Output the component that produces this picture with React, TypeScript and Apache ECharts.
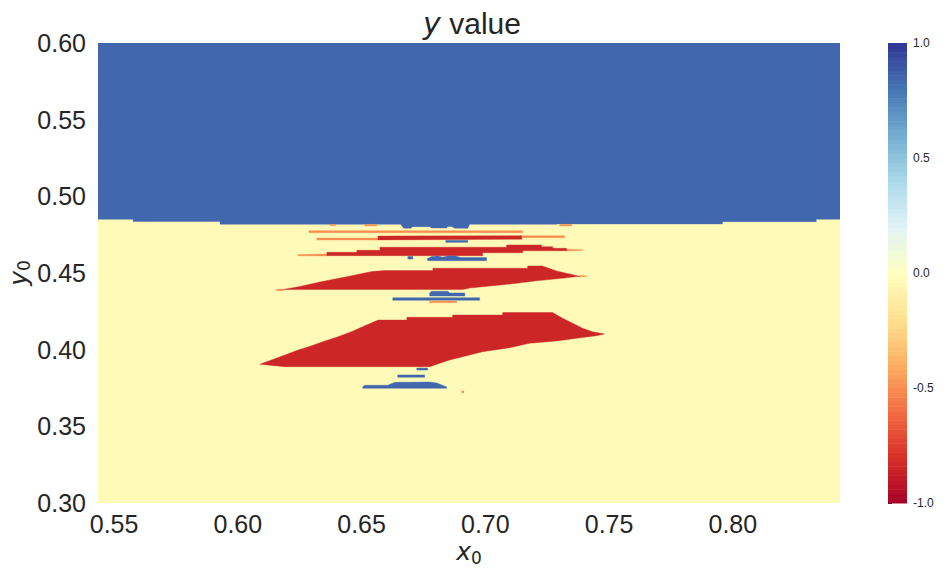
import React, { useEffect, useRef } from 'react';
import * as echarts from 'echarts';

// ---- axes ----
const X_MIN = 0.5435;
const X_MAX = 0.8433;
const Y_MIN = 0.3;
const Y_MAX = 0.6;
const Y_STEP = 0.05;
const CB_MIN = -1;
const CB_MAX = 1;
const CB_STEP = 0.5;

// ---- colormap (RdYlBu) ----
const RDYLBU = ['#a50026', '#d73027', '#f46d43', '#fdae61', '#fee090', '#ffffbf', '#e0f3f8', '#abd9e9', '#74add1', '#4575b4', '#313695'];

// ---- field values ----
const FIELD_VALUE = -0.03;
const BLUE_VALUE = 0.84;
const RED_VALUE = -0.84;
const EDGE_VALUE = -0.5;
const BLUE_HALO = 0.45;
const RED_HALO = -0.55;

// ---- regions (x0, y0) ----
const BACKGROUND = [[X_MIN, Y_MIN], [X_MAX, Y_MIN], [X_MAX, Y_MAX], [X_MIN, Y_MAX]];
const UPPER_BLUE = [[0.5435, 0.6], [0.8433, 0.6], [0.8433, 0.485], [0.8337, 0.485], [0.8337, 0.4835], [0.7958, 0.4835], [0.7958, 0.482], [0.7288, 0.482], [0.7288, 0.4818], [0.6937, 0.4818], [0.6929, 0.4792], [0.6876, 0.4792], [0.6864, 0.4803], [0.6848, 0.4803], [0.6844, 0.4794], [0.6783, 0.4794], [0.6775, 0.4802], [0.6707, 0.4802], [0.6699, 0.4792], [0.667, 0.4792], [0.6658, 0.4818], [0.5928, 0.4818], [0.5928, 0.4836], [0.5577, 0.4836], [0.5577, 0.485], [0.5435, 0.485]];
const ORANGE_LINE_1 = [[0.6287, 0.4763], [0.7151, 0.4763], [0.7151, 0.4776], [0.6287, 0.4776]];
const ORANGE_LINE_2L = [[0.6319, 0.4715], [0.6566, 0.4715], [0.6566, 0.4728], [0.6319, 0.4728]];
const ORANGE_LINE_2R = [[0.7147, 0.473], [0.732, 0.473], [0.732, 0.4743], [0.7147, 0.4743]];
const RED_BAND_A = [[0.6566, 0.4716], [0.7147, 0.472], [0.7147, 0.4743], [0.6566, 0.4741]];
const BLUE_BIT_1 = [[0.684, 0.47], [0.6929, 0.47], [0.6929, 0.4713], [0.684, 0.4713]];
const RED_B_TIP_L = [[0.6243, 0.4613], [0.636, 0.4611], [0.636, 0.4624], [0.6243, 0.462]];
const RED_B_TIP_R = [[0.7328, 0.4643], [0.7393, 0.4646], [0.7393, 0.4652], [0.7328, 0.4655]];
const RED_BAND_B = [[0.636, 0.4613], [0.636, 0.4635], [0.6481, 0.4635], [0.6481, 0.4648], [0.6574, 0.4648], [0.6574, 0.4668], [0.7086, 0.4668], [0.7086, 0.4683], [0.7227, 0.4683], [0.7227, 0.4672], [0.7272, 0.4672], [0.7272, 0.4661], [0.7328, 0.4661], [0.7328, 0.4645], [0.7151, 0.4645], [0.7151, 0.4632], [0.6989, 0.4632], [0.6989, 0.4613]];
const BLUE_DOT_2 = [[0.6687, 0.4591], [0.6707, 0.4591], [0.6707, 0.4608], [0.6687, 0.4608]];
const BLUE_BLOB_3 = [[0.6767, 0.458], [0.6767, 0.4595], [0.6783, 0.4608], [0.6808, 0.4611], [0.6828, 0.4603], [0.6848, 0.4611], [0.688, 0.4611], [0.69, 0.4601], [0.7005, 0.4601], [0.7005, 0.458]];
const RED_C_TIP_L = [[0.6154, 0.4386], [0.6182, 0.4383], [0.6182, 0.4396], [0.6154, 0.4392]];
const RED_C_TIP_R = [[0.7381, 0.4474], [0.7409, 0.4477], [0.7409, 0.4482], [0.7381, 0.4484]];
const RED_BAND_C = [[0.6182, 0.4392], [0.6251, 0.4412], [0.6331, 0.4441], [0.644, 0.4476], [0.6541, 0.4509], [0.6594, 0.4516], [0.6788, 0.4516], [0.6788, 0.4531], [0.7171, 0.4531], [0.7171, 0.4546], [0.7231, 0.4546], [0.7288, 0.4513], [0.7328, 0.4498], [0.7381, 0.4478], [0.73, 0.4464], [0.7207, 0.4449], [0.7127, 0.4433], [0.703, 0.4417], [0.6937, 0.4402], [0.6909, 0.4392]];
const BLUE_BLOB_4 = [[0.6775, 0.435], [0.6775, 0.437], [0.6783, 0.4381], [0.6848, 0.4381], [0.6856, 0.437], [0.6917, 0.437], [0.6917, 0.435]];
const BLUE_LINE_5 = [[0.6626, 0.4322], [0.6977, 0.4322], [0.6977, 0.4339], [0.6626, 0.4339]];
const ORANGE_LINE_3 = [[0.6775, 0.4306], [0.6884, 0.4306], [0.6884, 0.4317], [0.6775, 0.4317]];
const RED_BIG = [[0.6089, 0.3905], [0.6136, 0.3933], [0.619, 0.3965], [0.6244, 0.3998], [0.6298, 0.4026], [0.6352, 0.4057], [0.6405, 0.4085], [0.6459, 0.4117], [0.6513, 0.4156], [0.6567, 0.4193], [0.6683, 0.4193], [0.6683, 0.4211], [0.6868, 0.4211], [0.6868, 0.4226], [0.707, 0.4226], [0.707, 0.4242], [0.7272, 0.4242], [0.7312, 0.4205], [0.7353, 0.4172], [0.7393, 0.4139], [0.7433, 0.4117], [0.7482, 0.4102], [0.7449, 0.4091], [0.7369, 0.4074], [0.7288, 0.4057], [0.7179, 0.4042], [0.7098, 0.4013], [0.6989, 0.3987], [0.6909, 0.3954], [0.6856, 0.3933], [0.6816, 0.3911], [0.6775, 0.3889], [0.619, 0.3889]];
const BLUE_BIT_6 = [[0.6723, 0.3867], [0.6767, 0.3867], [0.6767, 0.388], [0.6723, 0.388]];
const BLUE_BIT_7 = [[0.6646, 0.382], [0.6755, 0.382], [0.6755, 0.3835], [0.6646, 0.3835]];
const BLUE_BAR_8 = [[0.6505, 0.3748], [0.6505, 0.3758], [0.6513, 0.3768], [0.6606, 0.3768], [0.6634, 0.3787], [0.6775, 0.3789], [0.6804, 0.3783], [0.6844, 0.3757], [0.6844, 0.3748]];
const ORANGE_DOT = [[0.6905, 0.3718], [0.6913, 0.3718], [0.6913, 0.3731], [0.6905, 0.3731]];
const BOUNDARY_DOT_A = [[0.6513, 0.4807], [0.6562, 0.4807], [0.6562, 0.4817], [0.6513, 0.4817]];
const BOUNDARY_DOT_B = [[0.73, 0.4807], [0.7349, 0.4807], [0.7349, 0.4817], [0.73, 0.4817]];
const BOUNDARY_DOT_C = [[0.6372, 0.4809], [0.6396, 0.4809], [0.6396, 0.4817], [0.6372, 0.4817]];

type Region = { pts: number[][]; value: number; halo: number | null };
const REGIONS: Region[] = [
  { pts: BACKGROUND, value: FIELD_VALUE, halo: null },
  { pts: UPPER_BLUE, value: BLUE_VALUE, halo: BLUE_HALO },
  { pts: BOUNDARY_DOT_A, value: EDGE_VALUE, halo: null },
  { pts: BOUNDARY_DOT_B, value: EDGE_VALUE, halo: null },
  { pts: BOUNDARY_DOT_C, value: EDGE_VALUE, halo: null },
  { pts: ORANGE_LINE_1, value: EDGE_VALUE, halo: null },
  { pts: ORANGE_LINE_2L, value: EDGE_VALUE, halo: null },
  { pts: ORANGE_LINE_2R, value: EDGE_VALUE, halo: null },
  { pts: RED_BAND_A, value: RED_VALUE, halo: RED_HALO },
  { pts: BLUE_BIT_1, value: BLUE_VALUE, halo: BLUE_HALO },
  { pts: RED_B_TIP_L, value: EDGE_VALUE, halo: null },
  { pts: RED_B_TIP_R, value: EDGE_VALUE, halo: null },
  { pts: RED_BAND_B, value: RED_VALUE, halo: RED_HALO },
  { pts: BLUE_DOT_2, value: BLUE_VALUE, halo: BLUE_HALO },
  { pts: BLUE_BLOB_3, value: BLUE_VALUE, halo: BLUE_HALO },
  { pts: RED_C_TIP_L, value: EDGE_VALUE, halo: null },
  { pts: RED_C_TIP_R, value: EDGE_VALUE, halo: null },
  { pts: RED_BAND_C, value: RED_VALUE, halo: RED_HALO },
  { pts: BLUE_BLOB_4, value: BLUE_VALUE, halo: BLUE_HALO },
  { pts: BLUE_LINE_5, value: BLUE_VALUE, halo: BLUE_HALO },
  { pts: ORANGE_LINE_3, value: EDGE_VALUE, halo: null },
  { pts: RED_BIG, value: RED_VALUE, halo: RED_HALO },
  { pts: BLUE_BIT_6, value: BLUE_VALUE, halo: BLUE_HALO },
  { pts: BLUE_BIT_7, value: BLUE_VALUE, halo: BLUE_HALO },
  { pts: BLUE_BAR_8, value: BLUE_VALUE, halo: BLUE_HALO },
  { pts: ORANGE_DOT, value: EDGE_VALUE, halo: null },
];

// colorbar levels (legend scale)
const CB_LEVEL_COUNT = 100;
const CB_LEVELS: number[] = [];
for (let i = 0; i < CB_LEVEL_COUNT; i++) CB_LEVELS.push(CB_MIN + ((i + 0.5) * (CB_MAX - CB_MIN)) / CB_LEVEL_COUNT);

const TEXT = '#262626';
const SANS = '"Liberation Sans", Arial, sans-serif';
const MATH = '"DejaVu Sans", sans-serif';

export default function App() {
  const ref = useRef<HTMLDivElement>(null);
  useEffect(() => {
    if (!ref.current) return;
    const chart = echarts.init(ref.current, null, { renderer: 'svg' });
    const haloData = REGIONS.map((r, i) => [i, r.halo]).filter((d) => d[1] !== null);
    const fillData = REGIONS.map((r, i) => [i, r.value]);
    const cbHalf = (CB_MAX - CB_MIN) / CB_LEVEL_COUNT / 2;
    const option: any = {
      animation: false,
      backgroundColor: '#ffffff',
      title: {
        text: '{i|y} value',
        left: 467,
        top: 3,
        textAlign: 'center',
        textStyle: {
          fontFamily: SANS,
          fontSize: 30,
          fontWeight: 'normal',
          color: TEXT,
          rich: { i: { fontFamily: MATH, fontStyle: 'italic', fontSize: 30, color: TEXT } },
        },
      },
      grid: [
        { left: 98, top: 43, width: 742, height: 460, outerBoundsMode: 'none', containLabel: false },
        { left: 888, top: 43, width: 19, height: 460, outerBoundsMode: 'none', containLabel: false },
      ],
      xAxis: [
        {
          type: 'value',
          gridIndex: 0,
          min: X_MIN,
          max: X_MAX,
          splitNumber: 6,
          axisLine: { show: false },
          axisTick: { show: false },
          splitLine: { show: false },
          axisLabel: {
            showMinLabel: false,
            showMaxLabel: false,
            margin: 8,
            fontSize: 25,
            fontFamily: SANS,
            color: TEXT,
            formatter: (v: number) => (Math.abs(v * 20 - Math.round(v * 20)) < 1e-6 ? v.toFixed(2) : ''),
          },
          name: '{i|x}{s|0}',
          nameLocation: 'middle',
          nameGap: 33,
          nameMoveOverlap: false,
          nameTextStyle: {
            rich: {
              i: { fontFamily: MATH, fontStyle: 'italic', fontSize: 25, color: TEXT, lineHeight: 30 },
              s: { fontFamily: MATH, fontSize: 17, color: TEXT, verticalAlign: 'bottom', lineHeight: 17 },
            },
          },
        },
        { type: 'value', gridIndex: 1, min: 0, max: 1, show: false },
      ],
      yAxis: [
        {
          type: 'value',
          gridIndex: 0,
          min: Y_MIN,
          max: Y_MAX,
          interval: Y_STEP,
          axisLine: { show: false },
          axisTick: { show: false },
          splitLine: { show: false },
          axisLabel: { margin: 12, fontSize: 25, fontFamily: SANS, color: TEXT, formatter: (v: number) => v.toFixed(2) },
          name: '{i|y}{s|0}',
          nameLocation: 'middle',
          nameRotate: 90,
          nameGap: 66,
          nameMoveOverlap: false,
          nameTextStyle: {
            rich: {
              i: { fontFamily: MATH, fontStyle: 'italic', fontSize: 25, color: TEXT, lineHeight: 28 },
              s: { fontFamily: MATH, fontSize: 17, color: TEXT, verticalAlign: 'bottom', lineHeight: 17 },
            },
          },
        },
        {
          type: 'value',
          gridIndex: 1,
          min: CB_MIN,
          max: CB_MAX,
          interval: CB_STEP,
          position: 'right',
          axisLine: { show: false },
          axisTick: { show: true, length: 4, lineStyle: { color: TEXT, width: 1 } },
          splitLine: { show: false },
          axisLabel: {
            margin: 6,
            fontSize: 12,
            fontFamily: SANS,
            color: TEXT,
            formatter: (v: number) => v.toFixed(1),
          },
        },
      ],
      visualMap: {
        type: 'continuous',
        show: false,
        min: CB_MIN,
        max: CB_MAX,
        dimension: 1,
        seriesIndex: [0, 1, 2],
        inRange: { color: RDYLBU },
      },
      series: [
        {
          type: 'custom',
          name: 'halo',
          xAxisIndex: 0,
          yAxisIndex: 0,
          clip: true,
          silent: true,
          data: haloData,
          renderItem: (params: any, api: any) => {
            const r = REGIONS[api.value(0)];
            const pts = r.pts.map((p) => api.coord(p));
            const c = api.visual('color');
            return { type: 'polygon', shape: { points: pts }, style: { fill: c, stroke: c, lineWidth: 2.2 } };
          },
        },
        {
          type: 'custom',
          name: 'field',
          xAxisIndex: 0,
          yAxisIndex: 0,
          clip: true,
          silent: true,
          data: fillData,
          renderItem: (params: any, api: any) => {
            const r = REGIONS[api.value(0)];
            const pts = r.pts.map((p) => api.coord(p));
            const c = api.visual('color');
            return { type: 'polygon', shape: { points: pts }, style: { fill: c, stroke: c, lineWidth: 0.4 } };
          },
        },
        {
          type: 'custom',
          name: 'colorbar',
          xAxisIndex: 1,
          yAxisIndex: 1,
          silent: true,
          data: CB_LEVELS.map((v, i) => [i, v]),
          renderItem: (params: any, api: any) => {
            const v = api.value(1);
            const p0 = api.coord([0, v + cbHalf]);
            const p1 = api.coord([1, v - cbHalf]);
            const c = api.visual('color');
            return {
              type: 'rect',
              shape: { x: p0[0], y: p0[1], width: p1[0] - p0[0], height: p1[1] - p0[1] + 0.5 },
              style: { fill: c },
            };
          },
        },
      ],
    };
    chart.setOption(option);
    return () => chart.dispose();
  }, []);
  return <div ref={ref} style={{ position: 'absolute', left: 0, top: 0, width: 951, height: 575 }} />;
}
